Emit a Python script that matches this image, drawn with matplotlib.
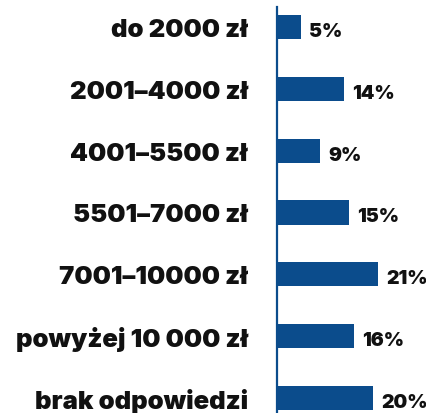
import matplotlib.pyplot as plt

# dane
kategorie = ['do 2000 zł', '2001–4000 zł', '4001–5500 zł', '5501–7000 zł',
             '7001–10000 zł', 'powyżej 10 000 zł', 'brak odpowiedzi']
wartosci = [5, 14, 9, 15, 21, 16, 20]

KOLOR = '#0b4c8c'
plt.rcParams['font.family'] = ['Inter', 'DejaVu Sans']

fig = plt.figure(figsize=(4.27, 4.14), dpi=100)
ax = fig.add_axes([277 / 427, 0, 1 - 277 / 427, 1 - 8 / 414])

pozycje = list(range(len(kategorie)))
ax.barh(pozycje, wartosci, height=0.39, color=KOLOR)

for p, w in zip(pozycje, wartosci):
    ax.annotate(f'{w}%', xy=(w, p), xytext=(8, -4), textcoords='offset pixels',
                ha='left', va='center', fontsize=14, fontweight=900, color='#111111')

ax.set_xlim(0, 31.2)
ax.set_ylim(6.24, -0.32)
ax.set_yticks(pozycje)
ax.set_yticklabels(kategorie, fontsize=18.5, fontweight=900, color='#111111')
ax.tick_params(axis='y', length=0, pad=21)
ax.set_xticks([])

for s in ['top', 'right', 'bottom']:
    ax.spines[s].set_visible(False)
ax.spines['left'].set_color(KOLOR)
ax.spines['left'].set_linewidth(1.6)

fig.savefig('out.png', dpi=100)
